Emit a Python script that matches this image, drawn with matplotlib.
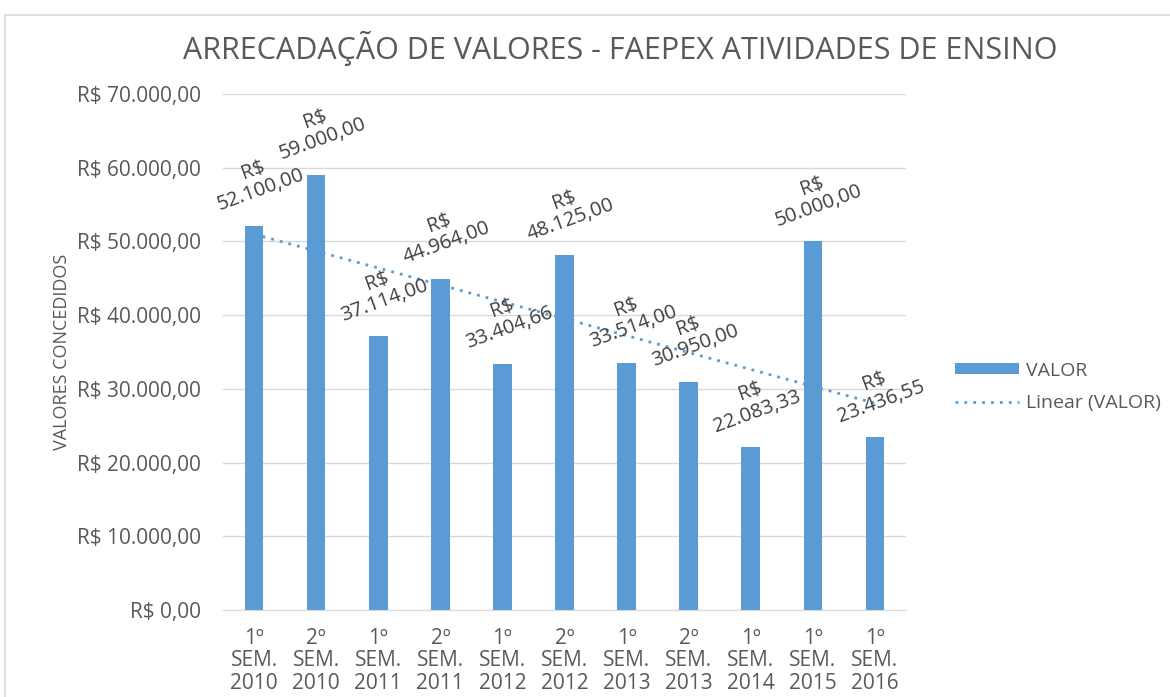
import numpy as np
import matplotlib.pyplot as plt
from matplotlib.patches import Rectangle
from matplotlib.ticker import FuncFormatter

plt.rcParams['font.family'] = ['Open Sans', 'DejaVu Sans']

categories = ['1º\nSEM.\n2010', '2º\nSEM.\n2010', '1º\nSEM.\n2011', '2º\nSEM.\n2011',
              '1º\nSEM.\n2012', '2º\nSEM.\n2012', '1º\nSEM.\n2013', '2º\nSEM.\n2013',
              '1º\nSEM.\n2014', '1º\nSEM.\n2015', '1º\nSEM.\n2016']
valores = [52100.00, 59000.00, 37114.00, 44964.00, 33404.66, 48125.00,
           33514.00, 30950.00, 22083.33, 50000.00, 23436.55]
yticks = [0, 10000, 20000, 30000, 40000, 50000, 60000, 70000]

TEXT = '#595959'
BAR = '#5B9BD5'


def brl(v, pos=None):
    s = f'{v:,.2f}'.replace(',', 'X').replace('.', ',').replace('X', '.')
    return 'R$ ' + s


fig = plt.figure(figsize=(11.7, 6.97), dpi=100)
ax = fig.add_axes([223 / 1170, 1 - 610 / 697, (906 - 223) / 1170, (610 - 94) / 697])

# chart frame
fig.patches.append(Rectangle((5 / 1170, -0.01), 1.0, 1 - 15 / 697 + 0.01,
                             transform=fig.transFigure, fill=False,
                             edgecolor='#D9D9D9', linewidth=1.2))

x = np.arange(len(valores))
bars = ax.bar(x, valores, width=0.3, color=BAR, label='VALOR', zorder=2)

# linear trend line (Excel style, x = 1..n)
coef = np.polyfit(x + 1, valores, 1)
trend = np.polyval(coef, x + 1)
line, = ax.plot(x, trend, linestyle=(0, (1, 2.2)), color=BAR, linewidth=2,
                label='Linear (VALOR)', zorder=3)

for xi, v in zip(x, valores):
    s = brl(v).replace('R$ ', 'R$\n')
    ax.annotate(s, (xi, v), xytext=(2, 33), textcoords='offset points',
                ha='center', va='center', rotation=20, fontsize=14.5,
                color='#404040', linespacing=1.1, zorder=4)

ax.set_xlim(-0.5, len(valores) - 0.5)
ax.set_ylim(0, 70000)
ax.set_yticks(yticks)
ax.yaxis.set_major_formatter(FuncFormatter(brl))
ax.set_xticks(x)
ax.set_xticklabels(categories, linespacing=1.08)
ax.tick_params(axis='both', length=0, labelsize=15, colors=TEXT)
ax.tick_params(axis='x', pad=13)
ax.tick_params(axis='y', pad=16)
ax.grid(axis='y', color='#D9D9D9', linewidth=1, zorder=0)
for side in ['top', 'right', 'left']:
    ax.spines[side].set_visible(False)
ax.spines['bottom'].set_color('#D9D9D9')

ax.set_ylabel('VALORES CONCEDIDOS', fontsize=13, color=TEXT, labelpad=4)

fig.text(620 / 1170, 1 - 48 / 697, 'ARRECADAÇÃO DE VALORES - FAEPEX ATIVIDADES DE ENSINO',
         ha='center', va='center', fontsize=22, color=TEXT)

fig.legend([bars, line], ['VALOR', 'Linear (VALOR)'], loc='center left',
           bbox_to_anchor=(937 / 1170, 1 - 387 / 697),
           frameon=False, fontsize=14, labelcolor=TEXT, handlelength=3.3,
           handleheight=0.5, handletextpad=0.4, labelspacing=0.75)

fig.savefig('out.png', dpi=100)
